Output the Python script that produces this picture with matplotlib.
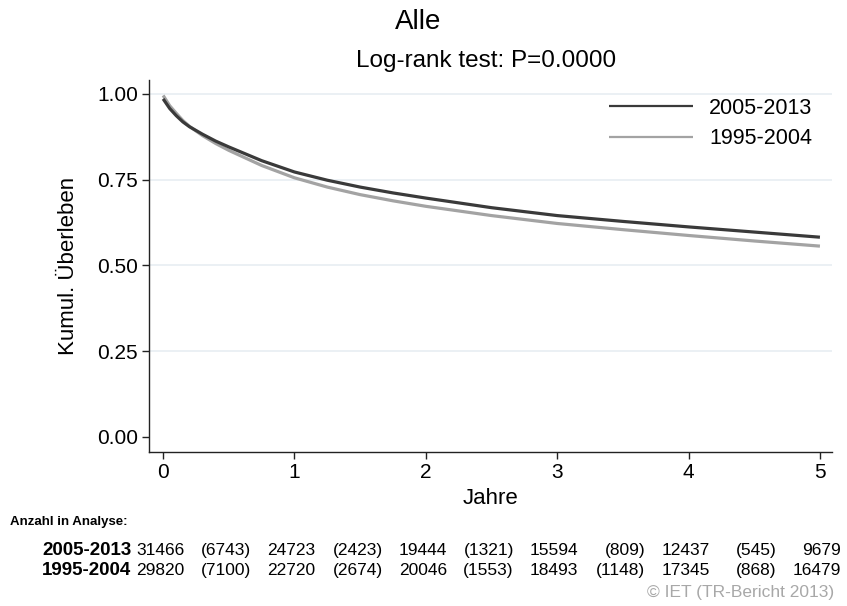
import matplotlib.pyplot as plt
from matplotlib.transforms import blended_transform_factory

plt.rcParams['font.family'] = ['Liberation Sans', 'DejaVu Sans']

# survival curves
years = [0.0, 0.05, 0.1, 0.15, 0.2, 0.3, 0.4, 0.5, 0.75, 1.0, 1.25, 1.5, 1.75,
         2.0, 2.5, 3.0, 3.5, 4.0, 4.5, 5.0]
surv_new = [0.985, 0.957, 0.936, 0.918, 0.904, 0.882, 0.862, 0.845, 0.805, 0.772,
            0.748, 0.728, 0.711, 0.696, 0.668, 0.645, 0.628, 0.612, 0.597, 0.582]
surv_old = [0.995, 0.965, 0.943, 0.922, 0.905, 0.878, 0.855, 0.835, 0.791, 0.755,
            0.728, 0.706, 0.688, 0.672, 0.645, 0.622, 0.604, 0.587, 0.571, 0.556]

groups = ["2005-2013", "1995-2004"]
at_risk_times = [0, 1, 2, 3, 4, 5]
at_risk_new = [31466, 24723, 19444, 15594, 12437, 9679]
at_risk_old = [29820, 22720, 20046, 18493, 17345, 16479]
cens_times = [0.5, 1.5, 2.5, 3.5, 4.5]
cens_new = [6743, 2423, 1321, 809, 545]
cens_old = [7100, 2674, 1553, 1148, 868]

dark = "#3a3a3a"
light = "#a3a3a3"

fig = plt.figure(figsize=(8.47, 6.06), dpi=100)
ax = fig.add_axes([0.176, 0.254, 0.806, 0.614])

ax.plot(years, surv_old, color=light, lw=2.3, solid_capstyle='butt', label=groups[1])
ax.plot(years, surv_new, color=dark, lw=2.3, solid_capstyle='butt', label=groups[0])

ax.set_xlim(-0.107, 5.09)
ax.set_ylim(-0.044, 1.04)
ax.set_yticks([0, 0.25, 0.5, 0.75, 1.0])
ax.set_yticklabels(["0.00", "0.25", "0.50", "0.75", "1.00"])
ax.set_xticks(at_risk_times)
for y in [0.25, 0.5, 0.75, 1.0]:
    ax.axhline(y, color="#e8eef2", lw=1.2, zorder=0)

for s in ["top", "right"]:
    ax.spines[s].set_visible(False)
for s in ["left", "bottom"]:
    ax.spines[s].set_color("#222222")
    ax.spines[s].set_linewidth(1.0)
ax.tick_params(direction="out", length=5, width=1, color="#222222", labelsize=15, pad=3)

ax.set_xlabel("Jahre", fontsize=16, labelpad=4)
ax.set_ylabel("Kumul. Überleben", fontsize=16, labelpad=13)

# legend with newer period first
h, l = ax.get_legend_handles_labels()
leg = ax.legend(h[::-1], l[::-1], loc="upper right", bbox_to_anchor=(1.0, 1.005), frameon=False,
                fontsize=15.5, handlelength=3.9, handletextpad=0.75, labelspacing=0.45)
for line in leg.get_lines():
    line.set_linewidth(1.6)

fig.text(0.494, 0.964, "Alle", ha="center", va="center", fontsize=20)
fig.text(0.42, 0.9, "Log-rank test: P=0.0000", ha="left", va="center", fontsize=17.5)

# number at risk table
fig.text(0.012, 0.138, "Anzahl in Analyse:", fontsize=9.5, fontweight="bold", va="center")
tr = blended_transform_factory(ax.transData, fig.transFigure)
rows = [(groups[0], at_risk_new, cens_new, 0.091), (groups[1], at_risk_old, cens_old, 0.058)]
for name, nums, cens, yy in rows:
    fig.text(0.155, yy, name, ha="right", va="center", fontsize=13.5, fontweight="bold")
    for t, n in zip(at_risk_times, nums):
        ax.text(t + 0.16, yy, str(n), transform=tr, ha="right", va="center", fontsize=12.5)
    for t, c in zip(cens_times, cens):
        ax.text(t + 0.17, yy, "(%d)" % c, transform=tr, ha="right", va="center", fontsize=12.5)

fig.text(0.985, 0.022, "© IET (TR-Bericht 2013)", ha="right", va="center", fontsize=12.5,
         color="#a8a8a8")

fig.savefig("out.png", dpi=100)
